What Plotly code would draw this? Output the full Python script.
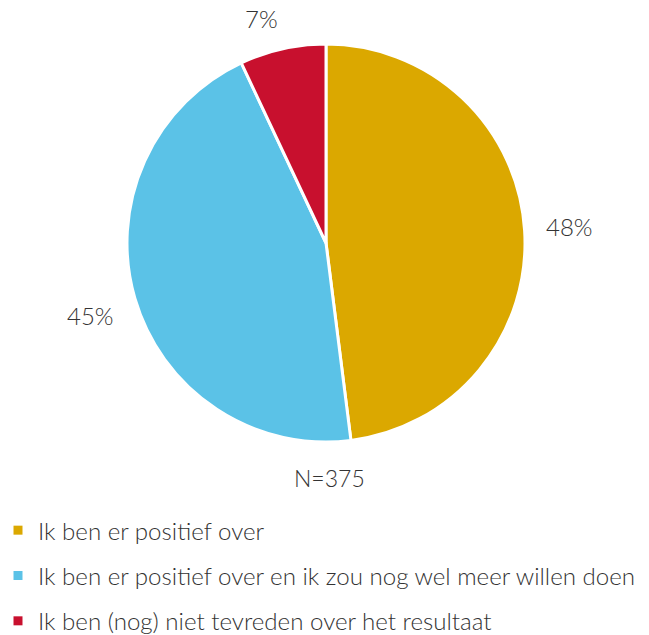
import math
import plotly.graph_objects as go

categories = [
    "Ik ben er positief over",
    "Ik ben er positief over en ik zou nog wel meer willen doen",
    "Ik ben (nog) niet tevreden over het resultaat",
]
values = [48, 45, 7]
colors = ["#DBA800", "#5BC2E7", "#C8102E"]
note = "N=375"

FONT = "Lato"
TXT = "#333333"
W, H = 649, 635
LBL = 24
OFF = 8  # page body margin of the html output

# pie geometry (screen pixels)
CX, CY, R = 326, 243, 199


def fx(px):
    return (px - OFF) / W


def fy(py):
    return 1 - (py - OFF) / H


fig = go.Figure()
fig.add_trace(go.Pie(
    labels=categories,
    values=values,
    sort=False,
    direction="clockwise",
    rotation=0,
    marker=dict(colors=colors, line=dict(color="white", width=3)),
    textinfo="none",
    showlegend=False,
    domain=dict(x=[fx(CX - R), fx(CX + R)], y=[fy(CY + R), fy(CY - R)]),
    hoverinfo="label+percent",
))

# percentage labels outside the slices, positioned from the data
total = sum(values)
cum = 0
for v in values:
    mid = (cum + v / 2) / total * 2 * math.pi
    cum += v
    sx, sy = math.sin(mid), math.cos(mid)
    txt = f"{round(v / total * 100)}%"
    hw = 0.35 * LBL * len(txt)
    hh = 11
    ox = hw * max(-1.0, min(1.0, sx / 0.15))
    oy = hh * max(-1.0, min(1.0, sy / 0.2))
    px = CX + (R + 20) * sx + ox
    py = CY - (R + 20) * sy - oy
    fig.add_annotation(text=txt, x=fx(px), y=fy(py), height=24,
                       xref="paper", yref="paper", xanchor="center", yanchor="middle",
                       showarrow=False,
                       font=dict(family=FONT, size=LBL, color=TXT, weight=300))

for i, (c, col) in enumerate(zip(categories, colors)):
    fig.add_trace(go.Scatter(
        x=[None], y=[None], mode="markers", name=c,
        marker=dict(symbol="square", size=9, color=col),
        legendgroup=f"g{i}", showlegend=True,
    ))

fig.add_annotation(text=note, x=fx(329), y=fy(478), xref="paper", yref="paper",
                   xanchor="center", yanchor="middle", showarrow=False,
                   font=dict(family=FONT, size=23, color=TXT, weight=300))

fig.update_layout(
    width=W, height=H,
    margin=dict(l=0, r=0, t=0, b=0, autoexpand=False),
    paper_bgcolor="white", plot_bgcolor="white",
    xaxis=dict(visible=False), yaxis=dict(visible=False),
    font=dict(family=FONT, color=TXT, weight=300),
    legend=dict(
        x=0, y=0, xanchor="left", yanchor="bottom",
        font=dict(family=FONT, size=24.1, color=TXT, weight=300),
        tracegroupgap=11, itemwidth=30, indentation=-10, bgcolor="rgba(0,0,0,0)",
    ),
)

fig.write_html("out.html")
